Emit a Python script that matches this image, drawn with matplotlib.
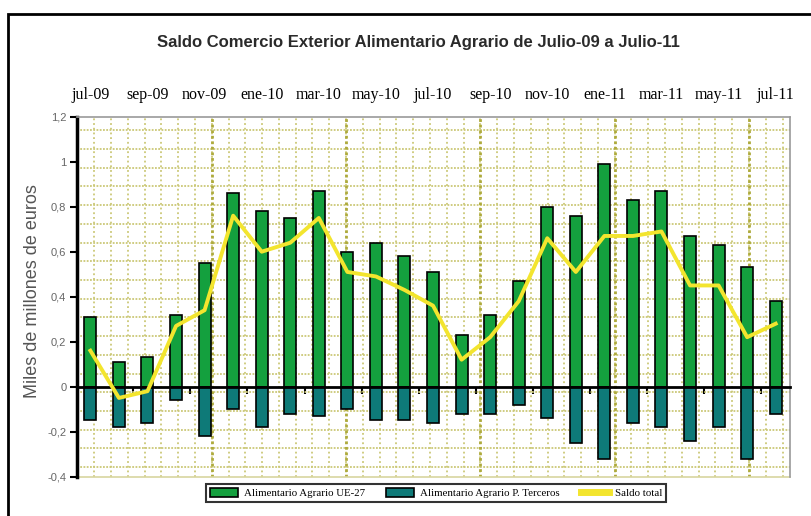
import numpy as np
import matplotlib
matplotlib.use("Agg")
import matplotlib.pyplot as plt
from matplotlib.patches import Rectangle
from matplotlib.ticker import MultipleLocator, FuncFormatter

months = ["jul-09", "ago-09", "sep-09", "oct-09", "nov-09", "dic-09",
          "ene-10", "feb-10", "mar-10", "abr-10", "may-10", "jun-10",
          "jul-10", "ago-10", "sep-10", "oct-10", "nov-10", "dic-10",
          "ene-11", "feb-11", "mar-11", "abr-11", "may-11", "jun-11", "jul-11"]

# miles de millones de euros
ue27 = [0.31, 0.11, 0.13, 0.32, 0.55, 0.86, 0.78, 0.75, 0.87, 0.60, 0.64, 0.58, 0.51,
        0.23, 0.32, 0.47, 0.80, 0.76, 0.99, 0.83, 0.87, 0.67, 0.63, 0.53, 0.38]
terceros = [-0.15, -0.18, -0.16, -0.06, -0.22, -0.10, -0.18, -0.12, -0.13, -0.10, -0.15, -0.15, -0.16,
            -0.12, -0.12, -0.08, -0.14, -0.25, -0.32, -0.16, -0.18, -0.24, -0.18, -0.32, -0.12]
saldo = [0.16, -0.05, -0.02, 0.27, 0.34, 0.76, 0.60, 0.64, 0.75, 0.51, 0.49, 0.43, 0.36,
         0.12, 0.22, 0.38, 0.66, 0.51, 0.67, 0.67, 0.69, 0.45, 0.45, 0.22, 0.28]

green = "#14a03e"
teal = "#0e7a78"
yellow = "#f3e52e"
grid_col = "#cbc877"

x = np.arange(len(months))

fig = plt.figure(figsize=(8.12, 5.16), dpi=100)
ax = fig.add_axes([0.0953, 0.0762, 0.8776, 0.6976])

b1 = ax.bar(x, ue27, width=0.42, color=green, edgecolor="black", linewidth=1.2, zorder=2)
b2 = ax.bar(x, terceros, width=0.42, color=teal, edgecolor="black", linewidth=1.2, zorder=2)
ln, = ax.plot(x, saldo, color=yellow, lw=2.8, zorder=3, solid_joinstyle="round")

ax.set_xlim(-0.455, 24.5)
ax.set_ylim(-0.4, 1.2)

# fondo cuadriculado
ax.xaxis.set_minor_locator(MultipleLocator(0.588, offset=-0.455))
ax.yaxis.set_minor_locator(MultipleLocator(0.0832, offset=0.0584))
ax.grid(which="minor", axis="x", color=grid_col, linestyle=(0, (1, 1.6)), lw=1.3)
ax.grid(which="minor", axis="y", color=grid_col, linestyle=(0, (1, 0.8)), lw=1.3)
ax.grid(which="major", visible=False)
for xv in np.arange(-0.455 + 4.705, 24.5, 4.705):
    ax.axvline(xv, color="#aeaa3c", lw=2.0, linestyle=(0, (1, 1)), zorder=0.6)
ax.set_axisbelow(True)

ax.spines["bottom"].set_position(("data", 0))
ax.spines["bottom"].set_linewidth(2)
ax.spines["left"].set_linewidth(2.5)
for s in ("top", "right"):
    ax.spines[s].set_color("#9a9a9a")
    ax.spines[s].set_linewidth(1.2)
ax.plot([0, 1], [0, 0], transform=ax.transAxes, color="#d8d6a0", lw=1.2, clip_on=False)

ax.set_xticks(np.arange(1.5, 24, 2))
ax.tick_params(axis="x", which="major", direction="out", length=5, width=1.5, labelbottom=False)
ax.tick_params(which="minor", length=0)

ax.yaxis.set_major_locator(MultipleLocator(0.2))
ax.yaxis.set_major_formatter(FuncFormatter(
    lambda v, p: ("%g" % round(v, 2)).replace(".", ",") if abs(v) > 1e-9 else "0"))
ax.tick_params(axis="y", which="major", direction="out", length=5, width=1.5,
               labelsize=8, labelcolor="#666666", pad=3)
for lab in ax.get_yticklabels():
    lab.set_family("Liberation Sans")

sec = ax.secondary_xaxis("top")
sec.set_xticks(x[::2], labels=months[::2])
sec.tick_params(length=0, pad=10, labelsize=11.5)
sec.spines["top"].set_visible(False)
for lab in sec.get_xticklabels():
    lab.set_family("Liberation Serif")

fig.text(0.515, 0.9186, "Saldo Comercio Exterior Alimentario Agrario de Julio-09 a Julio-11",
         ha="center", va="center", fontsize=12, fontweight="bold", family="Liberation Sans",
         color="#2a2a2a")
fig.text(0.0406, 0.436, "Miles de millones de euros", rotation=90, ha="center", va="center",
         fontsize=13, family="Liberation Sans", color="#555555")

leg = fig.legend([b1, b2, ln],
                 ["Alimentario Agrario UE-27", "Alimentario Agrario P. Terceros", "Saldo total"],
                 loc="center", bbox_to_anchor=(0.537, 0.0446), ncol=3,
                 frameon=True, fancybox=False, edgecolor="black", handlelength=2.6,
                 handleheight=0.9, columnspacing=2.0, handletextpad=0.5, borderpad=0.35,
                 prop={"family": "Liberation Serif", "size": 7.8})
leg.get_frame().set_linewidth(1.5)
leg.get_lines()[0].set_linewidth(5)

fig.add_artist(Rectangle((8 / 812, -0.1), 1.2, 1.0729, transform=fig.transFigure,
                         fill=False, edgecolor="black", lw=2))

fig.savefig("out.png", dpi=100, facecolor="white")
